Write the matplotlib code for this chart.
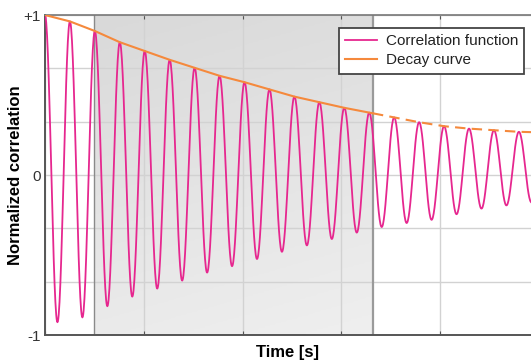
import numpy as np
import matplotlib.pyplot as plt
from matplotlib.colors import LinearSegmentedColormap

plt.rcParams['font.family'] = ['Liberation Sans', 'DejaVu Sans']

# ----------------------------------------------------------------------------
# Values (x in grid units, y normalized)
period = 0.2525
peak_vals = [1.00, 0.96, 0.90, 0.83, 0.775, 0.72, 0.67, 0.62, 0.58, 0.535,
             0.49, 0.455, 0.42, 0.39, 0.36, 0.33, 0.305, 0.29, 0.28, 0.27]
trough_vals = [-0.92, -0.89, -0.82, -0.76, -0.71, -0.66, -0.61, -0.57, -0.525,
               -0.48, -0.44, -0.40, -0.36, -0.325, -0.30, -0.28, -0.245,
               -0.21, -0.19, -0.17]
decay_end = 0.268
shade_span = (0.5, 3.32)
x_max = 4.92
ytick_labels = ['-1', '', '', '0', '', '', '+1']

magenta = '#e6278f'
orange = '#f5893c'

# ----------------------------------------------------------------------------
# Correlation curve: half-cosine segments joining successive extrema
ext_vals = []
for p, t in zip(peak_vals, trough_vals):
    ext_vals += [p, t]
ext_t = np.arange(len(ext_vals)) * period / 2
xs, ys = [], []
for i in range(len(ext_vals) - 1):
    s = np.linspace(0, 1, 30, endpoint=False)
    xs.append(ext_t[i] + s * period / 2)
    ys.append(ext_vals[i] + (ext_vals[i + 1] - ext_vals[i]) * (1 - np.cos(np.pi * s)) / 2)
corr_t = np.concatenate(xs)
corr_y = np.concatenate(ys)

# Decay curve through the peaks, solid inside the window, dashed after
peak_t = np.arange(len(peak_vals)) * period
decay_t = np.append(peak_t, x_max)
decay_y = np.append(peak_vals, decay_end)
cut = shade_span[1]
solid = decay_t <= cut
y_cut = np.interp(cut, decay_t, decay_y)

fig = plt.figure(figsize=(5.31, 3.6), dpi=100)
ax = fig.add_axes([0.0847, 0.0694, 0.9153, 0.8889])

# Shaded window with a soft gradient
grad = np.linspace(0, 1, 100)[:, None] * 0.8 + np.linspace(0, 1, 100)[None, :] * 0.2
cmap = LinearSegmentedColormap.from_list('g', ['#d9d9d9', '#efefef'])
ax.imshow(grad, extent=(shade_span[0], shade_span[1], -1, 1), origin='upper',
          cmap=cmap, aspect='auto', zorder=0.2)
ax.axvline(shade_span[0], color='#8a8a8a', lw=1.0, zorder=0.6)
ax.axvline(shade_span[1], color='#9a9a9a', lw=1.6, zorder=0.6)

ax.plot(corr_t, corr_y, color=magenta, lw=1.3, zorder=3,
        label='Correlation function')
ax.plot(np.append(decay_t[solid], cut), np.append(decay_y[solid], y_cut),
        color=orange, lw=1.5, zorder=4, label='Decay curve')
ax.plot(np.insert(decay_t[~solid], 0, cut), np.insert(decay_y[~solid], 0, y_cut),
        color=orange, lw=1.5, zorder=4, dashes=(5, 3))

ax.set_xlim(0, x_max)
ax.set_ylim(-1, 1)
ax.set_xticks(np.arange(0, 5, 1))
ax.set_xticklabels([])
ax.set_yticks(np.linspace(-1, 1, 7))
ax.set_yticklabels(ytick_labels)
ax.tick_params(axis='both', direction='in', length=3, color='#555555',
               labelsize=11, labelcolor='#333333', top=True, pad=3)
ax.tick_params(axis='y', length=0)
ax.grid(True, color='#d2d2d2', lw=1.0)
ax.set_axisbelow(True)

for side in ['left', 'bottom']:
    ax.spines[side].set_color('#555555')
    ax.spines[side].set_linewidth(1.4)
ax.spines['top'].set_color('#777777')
ax.spines['top'].set_linewidth(1.2)
ax.spines['right'].set_visible(False)

ax.set_xlabel('Time [s]', fontsize=12, fontweight='bold', labelpad=4)
ax.set_ylabel('Normalized correlation', fontsize=12, fontweight='bold')
ax.yaxis.set_label_coords(-0.0453, 0.5)

leg = ax.legend(loc='upper right', bbox_to_anchor=(524 / 531, 1 - 28 / 360),
                bbox_transform=fig.transFigure, borderaxespad=0, fontsize=11,
                fancybox=False, framealpha=1, edgecolor='#444444',
                handlelength=2.1, borderpad=0.4, labelspacing=0.35,
                handletextpad=0.55)
leg.get_frame().set_linewidth(1.3)
for t in leg.get_texts():
    t.set_color('#222222')

fig.savefig('out.png', dpi=100)
plt.close(fig)
